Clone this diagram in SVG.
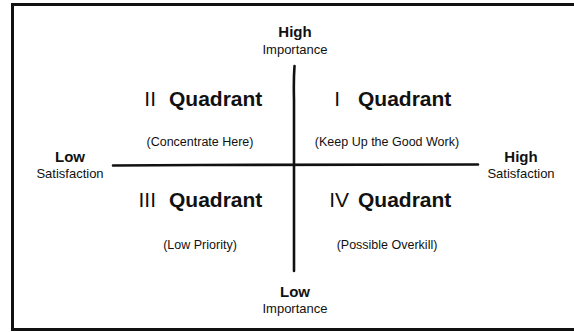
<svg xmlns="http://www.w3.org/2000/svg" width="574" height="332" viewBox="0 0 574 332">
<style>
.t{font-family:"Liberation Sans",Arial,sans-serif;fill:#111;}
.b{font-weight:bold;font-size:15px;text-anchor:middle;}
.s{font-size:13px;text-anchor:middle;}
.q{font-weight:bold;font-size:21px;}
.n{font-size:21px;text-anchor:end;}
.p{font-size:12.5px;text-anchor:middle;}
.ax{fill:none;stroke:#111;stroke-width:2.6;stroke-linecap:round;}
</style>
<rect x="12.5" y="4.5" width="580" height="325" fill="#fff" stroke="#111" stroke-width="3"/>
<g id="connectors">
<path class="ax" d="M294.5,66 Q293.5,80 294,100 L294,271"/>
<path class="ax" d="M113,165.5 L200,165 L478,164.5"/>
</g>
<g id="top-label"><text class="t b" x="295" y="37">High</text><text class="t s" x="295" y="54">Importance</text></g>
<g id="bottom-label"><text class="t b" x="295" y="297">Low</text><text class="t s" x="295" y="313">Importance</text></g>
<g id="left-label"><text class="t b" x="70" y="162">Low</text><text class="t s" x="70" y="178">Satisfaction</text></g>
<g id="right-label"><text class="t b" x="521" y="162">High</text><text class="t s" x="521" y="178">Satisfaction</text></g>
<g id="q2"><text class="t n" x="156" y="106">II</text><text class="t q" x="169" y="106">Quadrant</text><text class="t p" x="200" y="146">(Concentrate Here)</text></g>
<g id="q1"><text class="t n" x="340" y="106">I</text><text class="t q" x="358" y="106">Quadrant</text><text class="t p" x="387" y="146">(Keep Up the Good Work)</text></g>
<g id="q3"><text class="t n" x="156" y="207">III</text><text class="t q" x="169" y="207">Quadrant</text><text class="t p" x="200" y="249">(Low Priority)</text></g>
<g id="q4"><text class="t n" x="349" y="207">IV</text><text class="t q" x="358" y="207">Quadrant</text><text class="t p" x="387" y="249">(Possible Overkill)</text></g>
</svg>
